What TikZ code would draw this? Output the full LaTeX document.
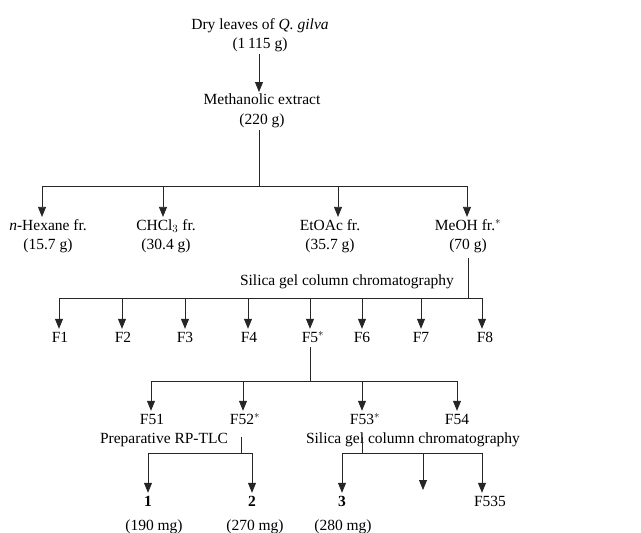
\documentclass[tikz,border=0pt]{standalone}
\usepackage{fontspec}
\setmainfont{Liberation Serif}
\usetikzlibrary{arrows.meta}
\begin{document}
\begin{tikzpicture}[
  x=1pt, y=-1pt,
  every node/.style={font=\fontsize{15.5}{19.5}\selectfont, inner sep=2pt},
  sample/.style={align=center},
  frac/.style={text height=11pt, text depth=3pt},
  link/.style={line width=0.8pt, black!85},
  flow/.style={link, -{Triangle[width=8pt,length=10pt]}}
]
  \useasboundingbox (0,0) rectangle (641,533);

  % Extraction of the dry leaves
  \node[sample] (leaves) at (260,35) {Dry leaves of \textit{Q. gilva}\\(1\,115 g)};
  \node[sample] (meth) at (262,111) {Methanolic extract\\(220 g)};
  \draw[flow] ([xshift=-1pt]leaves.south) -- ([xshift=-3pt]meth.north);

  % Solvent partition of the methanolic extract
  \node[sample] (hex) at (48,236) {\textit{n}-Hexane fr.\\(15.7 g)};
  \node[sample] (chl) at (166,236) {CHCl$_3$ fr.\\(30.4 g)};
  \node[sample] (eto) at (330,236) {EtOAc fr.\\(35.7 g)};
  \node[sample] (meoh) at (468,236) {MeOH fr.$^{*}$\\(70 g)};
  \coordinate (split1) at (259,186);
  \draw[link] ([xshift=-3pt]meth.south) -- (split1);
  \draw[link] (split1 -| 42,0) -- (split1 -| 467,0);
  \draw[flow] (split1 -| 42,0) -- ([xshift=-6pt]hex.north);
  \draw[flow] (split1 -| 163,0) -- ([xshift=-3pt]chl.north);
  \draw[flow] (split1 -| 338,0) -- ([xshift=8pt]eto.north);
  \draw[flow] (split1 -| 467,0) -- ([xshift=-1pt]meoh.north);

  % Silica gel column chromatography of the MeOH fraction
  \node (silica1) at (347,282) {Silica gel column chromatography};
  \foreach \name/\x/\lab in {f1/60/F1, f2/123/F2, f3/185/F3, f4/249/F4,
      f5/313/F5$^{*}$, f6/362/F6, f7/421/F7, f8/485/F8}
    \node[frac] (\name) at (\x,338) {\lab};
  \coordinate (split2) at (468,298);
  \draw[link] (meoh.south) ++(0,3) -- (split2);
  \draw[link] (split2 -| 59,0) -- (split2 -| 482,0);
  \foreach \name/\x in {f1/59, f2/122, f3/185, f4/248, f5/310, f6/362, f7/421, f8/482}
    \draw[flow] (split2 -| \x,0) -- (\name.north -| \x,0);

  % Subfractions of F5
  \node[frac] (f51) at (152,420) {F51};
  \node[frac] (f52) at (245,420) {F52$^{*}$};
  \node[frac] (f53) at (365,420) {F53$^{*}$};
  \node[frac] (f54) at (457,420) {F54};
  \coordinate (split3) at (310,381);
  \draw[link] (f5.south -| 310,0) -- (split3);
  \draw[link] (split3 -| 151,0) -- (split3 -| 457,0);
  \draw[flow] (split3 -| 151,0) -- (f51.north -| 151,0);
  \draw[flow] (split3 -| 243,0) -- (f52.north -| 243,0);
  \draw[flow] (split3 -| 362,0) -- (f53.north -| 362,0);
  \draw[flow] (split3 -| 457,0) -- (f54.north);

  % Preparative RP-TLC of F52
  \node (tlc) at (164,440) {Preparative RP-TLC};
  \node[frac, font=\fontsize{15.5}{19.5}\selectfont\bfseries] (cpd1) at (148,502) {1};
  \node[frac, font=\fontsize{15.5}{19.5}\selectfont\bfseries] (cpd2) at (252,502) {2};
  \node (mass1) at (154,527) {(190 mg)};
  \node (mass2) at (255,527) {(270 mg)};
  \coordinate (split4) at (241,453);
  \draw[link] ([yshift=-8pt]f52.south -| 241,0) -- (split4);
  \draw[link] (split4 -| 148,0) -- (split4 -| 252,0);
  \draw[flow] (split4 -| cpd1) -- (cpd1.north);
  \draw[flow] (split4 -| cpd2) -- (cpd2.north);

  % Silica gel column chromatography of F53
  \node (silica2) at (413,440) {Silica gel column chromatography};
  \node[frac, font=\fontsize{15.5}{19.5}\selectfont\bfseries] (cpd3) at (342,502) {3};
  \node (mass3) at (343,527) {(280 mg)};
  \node[frac] (f535) at (490,502) {F535};
  \coordinate (f534) at (423,490);
  \coordinate (split5) at (362,453);
  \draw[link] ([yshift=-8pt]f53.south -| 362,0) -- (split5);
  \draw[link] (split5 -| 342,0) -- (split5 -| 482,0);
  \draw[flow] (split5 -| cpd3) -- (cpd3.north);
  \draw[flow] (split5 -| f534) -- (f534);
  \draw[flow] (split5 -| 482,0) -- (f535.north -| 482,0);

\end{tikzpicture}
\end{document}
